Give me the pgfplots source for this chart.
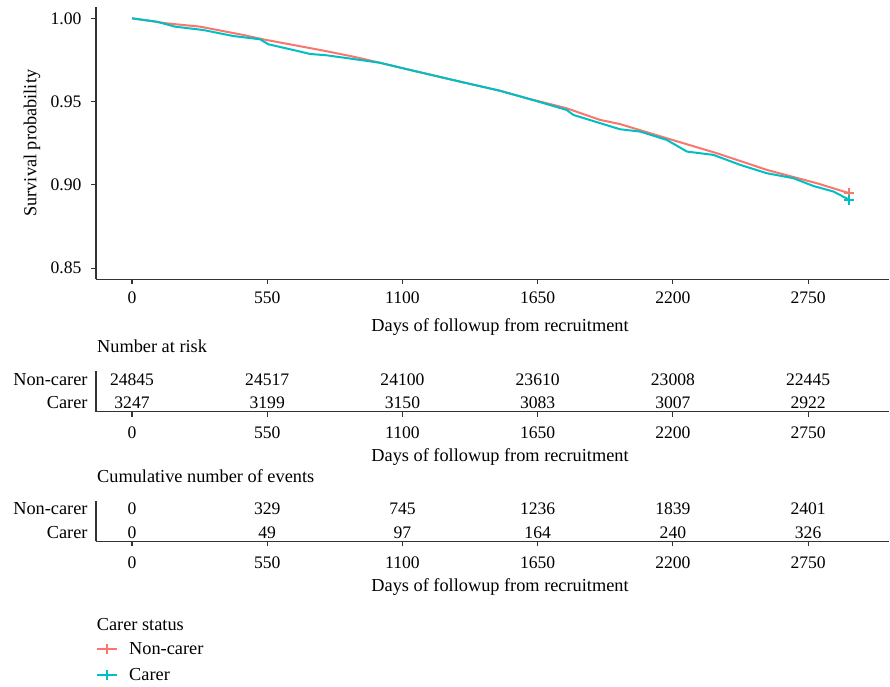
\documentclass[border=0pt]{standalone}
\usepackage{fontspec}
\setmainfont{Liberation Serif}
\usepackage{pgfplots}
\pgfplotsset{compat=1.18}
\definecolor{ncred}{HTML}{F8766D}
\definecolor{ccyan}{HTML}{00BFC4}
\definecolor{axgray}{HTML}{333333}
\newcommand{\f}{\fontsize{18.3}{22}\selectfont}
\newcommand{\fd}{\fontsize{17.6}{21}\selectfont}
\pgfplotsset{
  kmbase/.style={
    scale only axis, width=793pt,
    xmin=-146.5, xmax=3079,
    axis x line*=bottom, axis y line*=left,
    axis line style={axgray, line width=1.1pt, -},
    tick style={axgray, line width=1.1pt},
    tick align=outside, major tick length=5pt,
    xtick={0,550,1100,1650,2200,2750},
    xticklabels={0,550,1100,1650,2200,2750},
    tick label style={font=\f, black},
    x tick label style={font=\fd},
    label style={font=\f, black},
    title style={font=\f, black},
    xlabel={Days of followup from recruitment},
    xlabel style={at={(axis description cs:0.5095,0)}, anchor=center, yshift=-45.7pt},
  },
  tabbase/.style={
    kmbase, clip=false, height=40.7pt,
    ytick={1,2}, yticklabels={Carer,Non-carer},
    ytick style={draw=none},
    x tick label style={yshift=-7pt},
    title style={at={(axis description cs:0,1)}, anchor=west, inner sep=0pt, yshift=18.3pt, xshift=1pt},
  }
}
\begin{document}
\begin{tikzpicture}[font=\f]
\useasboundingbox (0pt,0pt) rectangle (890pt,-686pt);
% ---------- main survival plot ----------
\begin{axis}[kmbase,
  at={(96pt,-279.3pt)}, anchor=south west,
  height=272.3pt,
  ymin=0.8433, ymax=1.0068,
  ytick={0.85,0.90,0.95,1.00},
  yticklabels={0.85,0.90,0.95,1.00},
  y tick label style={font=\fd, xshift=-6pt},
  x tick label style={yshift=-4pt},
  ylabel={Survival probability},
  ylabel style={at={(axis description cs:-0.0807,0.5)}, anchor=center},
  xlabel style={yshift=-2pt},
  legend style={at={(axis description cs:0,0)}, anchor=north west, yshift=-361pt,
    draw=none, fill=none, font=\f, inner sep=0pt, row sep=8pt,
    /tikz/every odd column/.append style={column sep=9pt}},
  legend cell align=left,
  legend image code/.code={\draw[mark repeat=2,mark phase=2] plot coordinates {(0pt,0pt) (10pt,0pt) (20pt,0pt)};},
]
\addplot[ncred, line width=2pt, forget plot] coordinates {
(0,1.000) (141,0.997) (277,0.995) (453,0.990) (533,0.9874) (765,0.981)
(900,0.977) (1009,0.9733) (1131,0.969) (1334,0.962) (1497,0.9565) (1606,0.952)
(1768,0.946) (1904,0.939) (1985,0.9365) (2175,0.928) (2379,0.919) (2582,0.909)
(2785,0.901) (2918,0.895)};
\addplot[ccyan, line width=2pt, forget plot] coordinates {
(0,1.000) (100,0.998) (175,0.995) (289,0.993) (411,0.9894) (521,0.9874)
(555,0.9844) (656,0.981) (724,0.9786) (792,0.9778) (928,0.975) (1009,0.9733)
(1131,0.969) (1334,0.962) (1497,0.9565) (1606,0.952) (1768,0.945) (1795,0.942)
(1985,0.9334) (2067,0.932) (2175,0.927) (2257,0.920) (2365,0.918) (2474,0.912)
(2582,0.907) (2690,0.904) (2772,0.8993) (2853,0.896) (2918,0.891)};
\addplot[ncred, line width=2pt, only marks, mark=+, mark size=5pt, forget plot] coordinates {(2918,0.895)};
\addplot[ccyan, line width=2pt, only marks, mark=+, mark size=5pt, forget plot] coordinates {(2918,0.891)};
\addlegendimage{ncred, line width=2pt, mark=+, mark size=5pt}
\addlegendentry{Non-carer}
\addlegendimage{ccyan, line width=2pt, mark=+, mark size=5pt}
\addlegendentry{Carer}
\end{axis}
% ---------- number at risk ----------
\begin{axis}[tabbase,
  at={(96pt,-411.7pt)}, anchor=south west,
  ymin=0.615, ymax=2.355,
  title={Number at risk},
]
\node[font=\fd] at (axis cs:0,2) {24845};
\node[font=\fd] at (axis cs:550,2) {24517};
\node[font=\fd] at (axis cs:1100,2) {24100};
\node[font=\fd] at (axis cs:1650,2) {23610};
\node[font=\fd] at (axis cs:2200,2) {23008};
\node[font=\fd] at (axis cs:2750,2) {22445};
\node[font=\fd] at (axis cs:0,1) {3247};
\node[font=\fd] at (axis cs:550,1) {3199};
\node[font=\fd] at (axis cs:1100,1) {3150};
\node[font=\fd] at (axis cs:1650,1) {3083};
\node[font=\fd] at (axis cs:2200,1) {3007};
\node[font=\fd] at (axis cs:2750,1) {2922};
\end{axis}
% ---------- cumulative events ----------
\begin{axis}[tabbase,
  at={(96pt,-541.3pt)}, anchor=south west,
  ymin=0.615, ymax=2.355,
  title={Cumulative number of events},
]
\node[font=\fd] at (axis cs:0,2) {0};
\node[font=\fd] at (axis cs:550,2) {329};
\node[font=\fd] at (axis cs:1100,2) {745};
\node[font=\fd] at (axis cs:1650,2) {1236};
\node[font=\fd] at (axis cs:2200,2) {1839};
\node[font=\fd] at (axis cs:2750,2) {2401};
\node[font=\fd] at (axis cs:0,1) {0};
\node[font=\fd] at (axis cs:550,1) {49};
\node[font=\fd] at (axis cs:1100,1) {97};
\node[font=\fd] at (axis cs:1650,1) {164};
\node[font=\fd] at (axis cs:2200,1) {240};
\node[font=\fd] at (axis cs:2750,1) {326};
\end{axis}
\node[anchor=west, inner sep=0pt] at (96.7pt,-625pt) {Carer status};
\end{tikzpicture}
\end{document}
